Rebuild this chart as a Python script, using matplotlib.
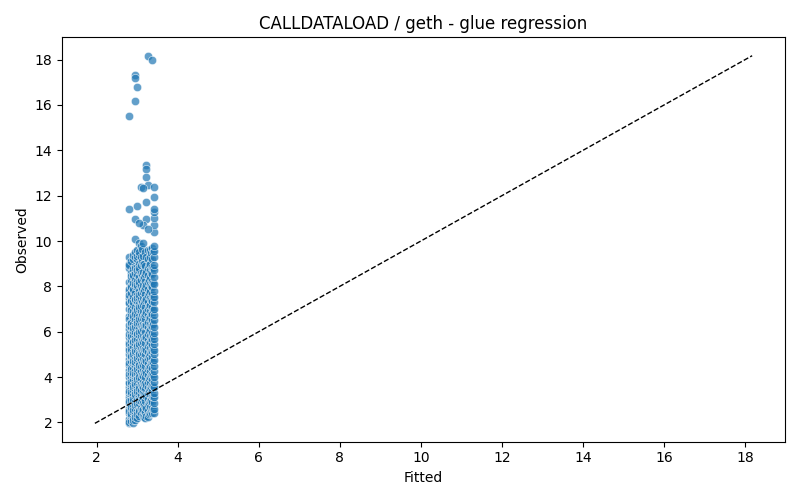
import numpy as np
import matplotlib.pyplot as plt

# valores: cada coluna de "fitted" com os "observed" correspondentes
col_279 = [1.98, 2.15, 2.4, 2.6, 2.85, 3.1, 3.3, 3.55, 3.8, 4.0, 4.3, 4.55, 4.8, 5.0, 5.3,
           5.55, 5.75, 6.1, 6.3, 6.7, 7.0, 7.3, 7.5, 7.8, 7.9, 8.8, 9.0, 9.3]
col_281 = [2.0, 2.5, 2.95, 3.4, 3.75, 4.15, 4.6, 5.2, 5.45, 5.9, 6.55, 7.25, 7.6, 8.2, 8.95]
col_284 = [2.05, 2.3, 2.55, 2.8, 3.0, 3.25, 3.5, 3.7, 3.95, 4.2, 4.45, 4.7, 4.9, 5.15, 5.4,
           5.65, 5.9, 6.2, 6.45, 6.8, 7.1, 7.4, 7.7, 8.0, 8.3, 8.6, 9.1]
col_286 = [2.35, 2.7, 3.35, 3.8, 4.35, 4.95, 5.25, 5.8, 6.4, 6.95, 7.35, 7.95, 8.45]
col_289 = [1.96, 2.2, 2.45, 2.7, 2.95, 3.2, 3.45, 3.65, 3.9, 4.1, 4.35, 4.6, 4.85, 5.1, 5.35,
           5.6, 5.85, 6.05, 6.35, 6.6, 6.9, 7.2, 7.55, 7.85, 8.15, 8.45, 8.75, 9.2]
col_291 = [2.1, 2.55, 3.05, 3.55, 4.2, 4.7, 5.0, 5.55, 6.15, 6.7, 7.3, 7.9, 8.5, 9.4]
col_294 = [2.1, 2.35, 2.6, 2.9, 3.15, 3.4, 3.6, 3.85, 4.05, 4.3, 4.55, 4.8, 5.05, 5.25, 5.5,
           5.75, 6.0, 6.3, 6.55, 6.85, 7.1, 7.4, 7.7, 8.0, 8.3, 8.6, 8.9, 9.3, 10.1]
col_296 = [2.25, 2.75, 3.25, 3.7, 4.15, 4.65, 5.15, 5.65, 6.2, 6.8, 7.45, 8.1, 8.8, 9.5]
col_299 = [2.2, 2.5, 2.75, 3.0, 3.3, 3.5, 3.75, 4.0, 4.2, 4.45, 4.7, 4.95, 5.2, 5.45, 5.7,
           5.95, 6.25, 6.5, 6.75, 7.05, 7.35, 7.6, 7.95, 8.25, 8.55, 8.85, 9.2, 9.6]
col_301 = [2.35, 2.85, 3.4, 3.9, 4.35, 4.85, 5.35, 5.9, 6.4, 6.95, 7.5, 8.05, 8.7, 9.35]
col_304 = [2.3, 2.55, 2.85, 3.1, 3.35, 3.6, 3.9, 4.15, 4.4, 4.6, 4.9, 5.1, 5.35, 5.6, 5.85,
           6.15, 6.4, 6.7, 7.0, 7.25, 7.5, 7.8, 8.1, 8.4, 8.7, 9.0, 9.4, 9.9]
col_306 = [2.5, 3.0, 3.5, 4.0, 4.55, 5.0, 5.45, 6.0, 6.55, 7.1, 7.6, 8.2, 8.8, 9.5]
col_309 = [2.4, 2.65, 2.95, 3.2, 3.45, 3.7, 3.95, 4.25, 4.5, 4.75, 5.0, 5.25, 5.5, 5.8,
           6.05, 6.3, 6.6, 6.9, 7.15, 7.45, 7.7, 8.0, 8.3, 8.6, 8.95, 9.3, 9.8]
col_311 = [2.55, 3.05, 3.6, 4.1, 4.6, 5.15, 5.65, 6.2, 6.75, 7.3, 7.9, 8.5, 9.1, 9.65]
col_314 = [2.3, 2.6, 2.85, 3.1, 3.35, 3.55, 3.8, 4.05, 4.3, 4.55, 4.8, 5.05, 5.3, 5.55,
           5.8, 6.1, 6.35, 6.6, 6.9, 7.2, 7.5, 7.75, 8.05, 8.35, 8.65, 9.0, 9.35, 9.9]
col_317 = [2.25, 2.75, 3.25, 3.7, 4.2, 4.65, 5.2, 5.7, 6.25, 6.7, 7.3, 7.85, 8.4, 9.0]
col_320 = [2.2, 2.45, 2.7, 2.95, 3.2, 3.5, 3.75, 4.0, 4.25, 4.5, 4.75, 5.0, 5.25, 5.5,
           5.75, 6.0, 6.3, 6.55, 6.8, 7.1, 7.4, 7.65, 7.95, 8.25, 8.55, 8.9, 9.5]
col_323 = [2.3, 2.65, 3.15, 3.65, 4.2, 4.7, 5.2, 5.75, 6.3, 6.85, 7.45, 8.05, 8.65, 9.3]
col_326 = [2.25, 2.5, 2.8, 3.05, 3.3, 3.55, 3.8, 4.1, 4.35, 4.6, 4.85, 5.1, 5.35, 5.65,
           5.9, 6.2, 6.45, 6.75, 7.0, 7.3, 7.6, 7.9, 8.2, 8.5, 8.8, 9.2, 9.6]
col_329 = [2.35, 2.85, 3.4, 3.9, 4.45, 4.95, 5.5, 6.05, 6.6, 7.15, 7.7, 8.3, 8.95]
col_332 = [2.4, 2.7, 2.95, 3.25, 3.5, 3.75, 4.0, 4.25, 4.5, 4.8, 5.05, 5.3, 5.55, 5.8,
           6.1, 6.35, 6.65, 6.9, 7.2, 7.5, 7.8, 8.1, 8.4, 8.7, 9.0, 9.3, 9.6]
col_335 = [2.5, 3.0, 3.55, 4.1, 4.6, 5.15, 5.7, 6.25, 6.8, 7.4, 8.0, 8.6, 9.45]
col_337 = [2.4, 2.65, 2.9, 3.15, 3.4, 3.65, 3.9, 4.15, 4.4, 4.65, 4.9, 5.15, 5.4, 5.7,
           5.95, 6.25, 6.5, 6.8, 7.1, 7.35, 7.65, 7.95, 8.25, 8.55, 8.85, 9.2, 9.7]
col_339 = [2.55, 3.1, 3.6, 4.1, 4.65, 5.25, 5.8, 6.35, 6.95, 7.55, 8.15, 8.8, 9.5]
col_341 = [2.4, 2.6, 2.85, 3.1, 3.3, 3.55, 3.8, 4.0, 4.25, 4.5, 4.75, 5.0, 5.2, 5.45,
           5.7, 5.95, 6.2, 6.5, 6.75, 7.0, 7.3, 7.55, 7.8, 8.1, 8.4, 8.7, 8.95, 9.3,
           9.55, 9.8, 10.4, 10.7, 11.03, 11.26, 11.43]

fitted_cols = [2.79, 2.81, 2.84, 2.86, 2.89, 2.91, 2.94, 2.96, 2.99, 3.01, 3.04, 3.06,
               3.09, 3.11, 3.14, 3.17, 3.20, 3.23, 3.26, 3.29, 3.32, 3.35, 3.37, 3.39, 3.41]
observed_cols = [col_279, col_281, col_284, col_286, col_289, col_291, col_294, col_296,
                 col_299, col_301, col_304, col_306, col_309, col_311, col_314, col_317,
                 col_320, col_323, col_326, col_329, col_332, col_335, col_337, col_339,
                 col_341]

# pontos isolados acima do bloco principal
out_fitted = [3.26, 3.36, 2.94, 2.94, 2.99, 2.94, 2.79, 3.21, 3.21, 3.21, 3.26, 3.09,
              3.14, 3.41, 3.41, 2.79, 2.99, 3.21, 2.94, 3.21, 3.14, 3.04, 3.26]
out_observed = [18.17, 18.0, 17.34, 17.2, 16.8, 16.19, 15.53, 13.33, 13.19, 12.84, 12.49,
                12.36, 12.33, 12.36, 11.96, 11.43, 11.56, 11.7, 10.99, 10.95, 10.7, 10.8, 10.55]

fitted = []
observed = []
for fx, ys in zip(fitted_cols, observed_cols):
    fitted += [fx] * len(ys)
    observed += ys
fitted += out_fitted
observed += out_observed

fig, ax = plt.subplots(figsize=(8, 5), dpi=100)
ax.scatter(fitted, observed, s=36, color='#1f77b4', alpha=0.7,
           edgecolor='white', linewidth=0.48)

lo = min(min(fitted), min(observed))
hi = max(max(fitted), max(observed))
ax.plot([lo, hi], [lo, hi], 'k--', linewidth=1)

ax.set_title('CALLDATALOAD / geth - glue regression')
ax.set_xlabel('Fitted')
ax.set_ylabel('Observed')

plt.tight_layout()
plt.savefig('out.png')
